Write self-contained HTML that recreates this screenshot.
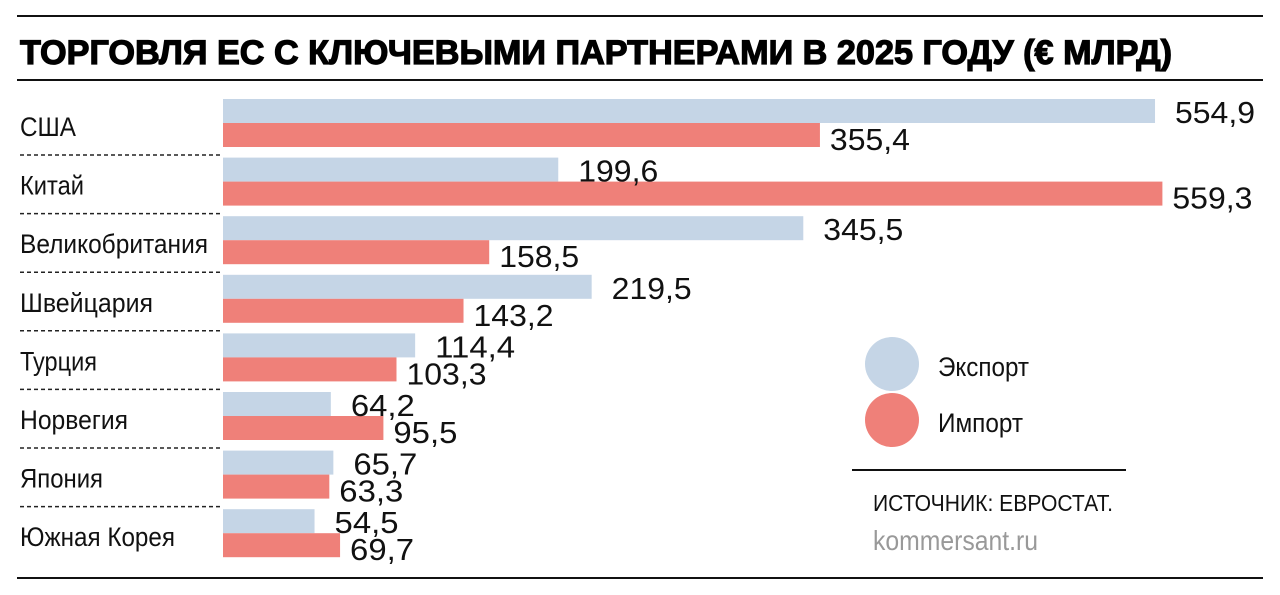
<!DOCTYPE html>
<html><head><meta charset="utf-8"><style>body{margin:0;background:#fff}svg{display:block}</style></head><body>
<svg width="1280" height="595" xmlns="http://www.w3.org/2000/svg" font-family="Liberation Sans, sans-serif">
<line x1="17" y1="16" x2="1263" y2="16" stroke="#111" stroke-width="2"/>
<line x1="17" y1="80" x2="1263" y2="80" stroke="#111" stroke-width="2"/>
<line x1="17" y1="578" x2="1263" y2="578" stroke="#111" stroke-width="2"/>
<text x="20" y="64" font-size="34" font-weight="bold" textLength="1152" lengthAdjust="spacingAndGlyphs" stroke="#000" stroke-width="1.2">ТОРГОВЛЯ ЕС С КЛЮЧЕВЫМИ ПАРТНЕРАМИ В 2025 ГОДУ (€ МЛРД)</text>
<g id="rows"></g>
<circle cx="892" cy="364" r="27" fill="#c5d5e6"/>
<circle cx="892" cy="420" r="27" fill="#ef8079"/>
<text x="938" y="376" font-size="27" fill="#111" textLength="91" lengthAdjust="spacingAndGlyphs">Экспорт</text>
<text x="938" y="432" font-size="27" fill="#111" textLength="85" lengthAdjust="spacingAndGlyphs">Импорт</text>
<line x1="852" y1="470" x2="1126" y2="470" stroke="#111" stroke-width="2"/>
<text x="873" y="511" font-size="23" fill="#111" textLength="240" lengthAdjust="spacingAndGlyphs">ИСТОЧНИК: ЕВРОСТАТ.</text>
<text x="873" y="550" font-size="28" fill="#999" textLength="165" lengthAdjust="spacingAndGlyphs">kommersant.ru</text>
</svg>
<script>
var d=[["США",554.9,355.4],["Китай",199.6,559.3],["Великобритания",345.5,158.5],["Швейцария",219.5,143.2],["Турция",114.4,103.3],["Норвегия",64.2,95.5],["Япония",65.7,63.3],["Южная Корея",54.5,69.7]];
var s="",k=1.6796;
function f(v){return v.toFixed(1).replace(".",",");}
var lw={"США":56,"Китай":64,"Великобритания":188,"Швейцария":133,"Турция":77,"Норвегия":108,"Япония":83,"Южная Корея":155};
d.forEach(function(r,i){
 var y=99+i*58.6;
 var we=r[1]*k, wi=r[2]*k;
 s+='<rect x="223" y="'+y+'" width="'+we+'" height="24" fill="#c5d5e6"/>';
 s+='<rect x="223" y="'+(y+24)+'" width="'+wi+'" height="24" fill="#ef8079"/>';
 s+='<text x="20" y="'+(y+37)+'" font-size="27" fill="#111" textLength="'+lw[r[0]]+'" lengthAdjust="spacingAndGlyphs">'+r[0]+'</text>';
 var a=f(r[1]),b=f(r[2]);
 s+='<text x="'+(223+we+20)+'" y="'+(y+24)+'" font-size="31" fill="#111" textLength="'+(a.length*16)+'" lengthAdjust="spacingAndGlyphs">'+a+'</text>';
 s+='<text x="'+(223+wi+10)+'" y="'+(y+51)+'" font-size="31" fill="#111" textLength="'+(b.length*16)+'" lengthAdjust="spacingAndGlyphs">'+b+'</text>';
 if(i<7)s+='<line x1="20" y1="'+(y+56)+'" x2="223" y2="'+(y+56)+'" stroke="#222" stroke-width="1.5" stroke-dasharray="4,3"/>';
});
document.getElementById("rows").innerHTML=s;
</script>
</body></html>
